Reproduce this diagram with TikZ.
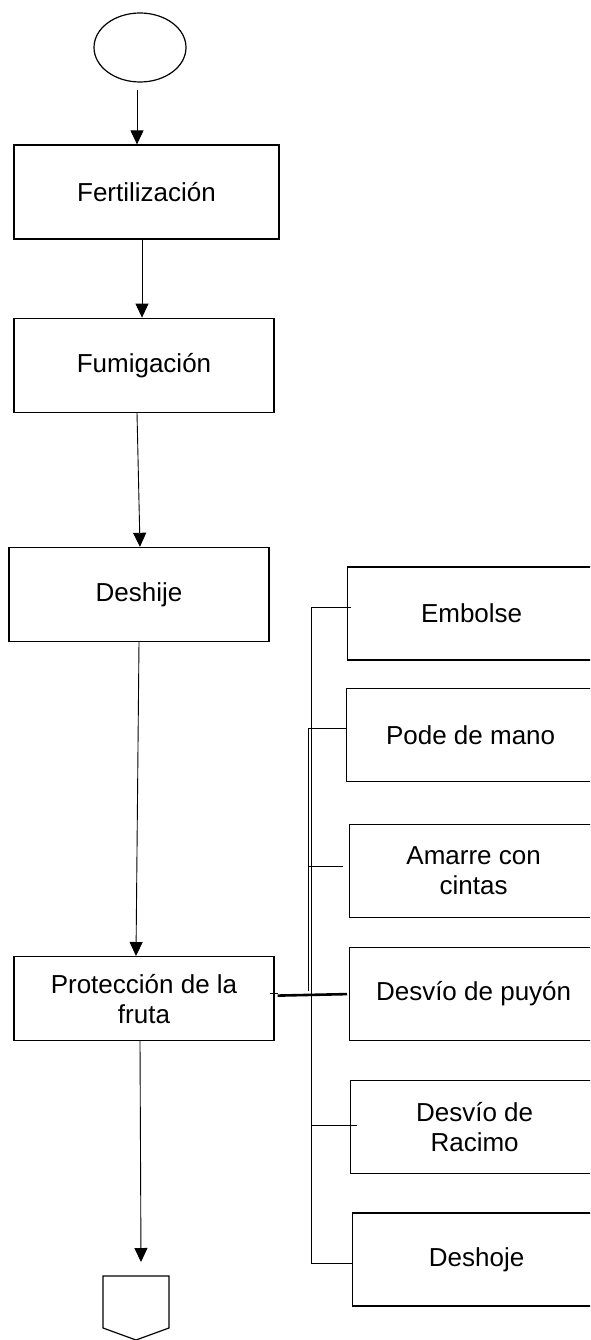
\documentclass[tikz,border=0pt]{standalone}
\usepackage{fontspec}
\setmainfont{Liberation Sans}
\usetikzlibrary{arrows.meta,shapes.geometric,positioning}
\tikzset{
    proceso/.style={draw,rectangle,line width=1.2pt,minimum width=260pt,minimum height=94pt,align=center,font=\fontsize{26}{30}\selectfont},
    tarea/.style={proceso,minimum width=248pt,minimum height=93pt,anchor=west},
}

\begin{document}
\begin{tikzpicture}[>={Triangle[width=13pt,length=14pt]},x=1pt,y=-1pt,line width=0.9pt,terminal/.style={ellipse,draw,line width=1.2pt,minimum width=92pt,minimum height=69pt}]
                \clip (0,0) rectangle (590,1340);
                \node[terminal] (inicio) at (140,47.5) {};
                \node[proceso,minimum width=265pt] (fert) at (146.5,192) {Fertilización};
                \node[proceso] (fumi) [below=78pt of fert, xshift=-2.5pt] {Fumigación};
                \node[proceso] (deshije) [below=134pt of fumi, xshift=-5pt] {Deshije};
                \node[proceso,minimum height=84pt] (prot) [below=314pt of deshije, xshift=5pt] {Protección de la\\fruta};
                \coordinate (fin) at (136,1276);

                % tareas de la derecha
                \node[tarea] (embolse) at (347,613.5) {Embolse};
                \node[tarea] (pode) [below=27pt of embolse, xshift=-1pt] {Pode de mano};
                \node[tarea] (amarre) [below=42pt of pode, xshift=3pt] {Amarre con\\cintas};
                \node[tarea] (puyon) [below=29pt of amarre] {Desvío de puyón};
                \node[tarea] (racimo) [below=39pt of puyon, xshift=1pt] {Desvío de\\Racimo};
                \node[tarea] (deshoje) [below=38pt of racimo, xshift=2pt] {Deshoje};

                \draw[line width=1.2pt] (fin) ++(-33,0) -- ++(66,0) -- ++(0,52) -- ++(-33,12) -- ++(-33,-12) -- cycle;

                \draw[->] ([xshift=-3pt,yshift=-7pt]inicio.south) -- ([xshift=-9.5pt]fert.north);
                \draw[->] ([xshift=-4.5pt]fert.south) -- ([xshift=-2pt]fumi.north);
                \draw[->] ([xshift=-7pt]fumi.south) -- ([xshift=1pt]deshije.north);
                \draw[->] (deshije.south) -- ([xshift=-8pt]prot.north);
                \draw[->] ([xshift=-4pt]prot.south) -- ([xshift=5pt,yshift=14pt]fin);

                \draw ([shift={(4pt,6.5pt)}]embolse.west) -- ++(-40,0) |- ([yshift=-4pt]deshoje.west);
                \draw ([yshift=6.5pt]pode.west) -- ++(-38,0) -- ++(0,263);
                \draw ([shift={(-6pt,4.5pt)}]amarre.west) -- ++(-35,0);
                \draw ([shift={(-5pt,5pt)}]prot.east) -- ++(8,0);
                \draw[line width=2.6pt] ([shift={(3pt,3pt)}]prot.east) -- ([xshift=-2pt]puyon.west);
                \draw ([shift={(7pt,1.5pt)}]racimo.west) -- ++(-46,0);
            \end{tikzpicture}
\end{document}
